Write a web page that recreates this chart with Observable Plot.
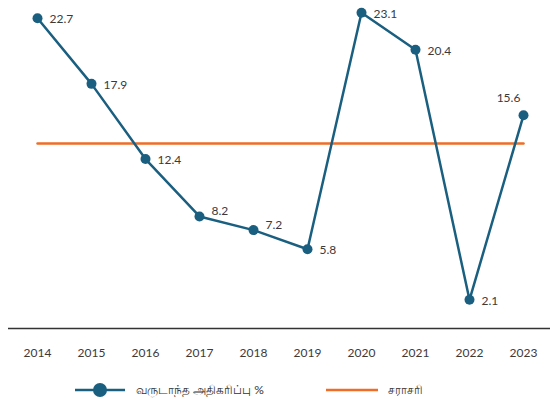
<!DOCTYPE html>
<html>
<head>
<meta charset="utf-8">
<script src="https://cdn.jsdelivr.net/npm/d3@7"></script>
<script src="https://cdn.jsdelivr.net/npm/@observablehq/plot@0.6"></script>
<style>
  html, body { margin: 0; padding: 0; background: #fff; }
  body { width: 550px; height: 412px; overflow: hidden; font-family: Lato, "Noto Sans", sans-serif; }
  #legend { position: relative; height: 37px; font-size: 12px; color: #333; }
  .item { position: absolute; top: 0; display: flex; align-items: center; height: 30px; }
  .item svg { display: block; }
</style>
</head>
<body>
<div id="chart"></div>
<div id="legend"></div>
<script>
const years = ["2014","2015","2016","2017","2018","2019","2020","2021","2022","2023"];
const values = [22.7, 17.9, 12.4, 8.2, 7.2, 5.8, 23.1, 20.4, 2.1, 15.6];
const seriesName = "வருடாந்த அதிகரிப்பு %";
const avgName = "சராசரி";

const data = years.map((y, i) => ({year: y, value: values[i]}));
const avg = d3.mean(values);
const blue = "#1a5f80";
const orange = "#ef6d27";
const raised = new Set(["2017", "2018"]);

const fmt = d => d.value.toFixed(1);
const chart = Plot.plot({
  width: 550,
  height: 375,
  marginLeft: 34,
  marginRight: 24,
  marginTop: 0,
  marginBottom: 47,
  style: {fontFamily: "Lato, 'Noto Sans', sans-serif", fontSize: "12px", color: "#3a3a3a"},
  x: {type: "point", domain: years, padding: 0, label: null, tickSize: 0, tickPadding: 20},
  y: {domain: [0, 24], axis: null},
  marks: [
    Plot.ruleY([0], {stroke: "#333", strokeWidth: 1.5, insetLeft: -26, insetRight: -24}),
    Plot.lineY(data, {x: "year", y: () => avg, stroke: orange, strokeWidth: 2.5}),
    Plot.line(data, {x: "year", y: "value", stroke: blue, strokeWidth: 2.5}),
    Plot.dot(data, {x: "year", y: "value", r: 5, fill: blue, stroke: null}),
    Plot.text(data.filter(d => d.year !== "2023" && !raised.has(d.year)), {x: "year", y: "value", text: fmt, textAnchor: "start", dx: 12, dy: 1, fill: "#3a3a3a", fontSize: 12}),
    Plot.text(data.filter(d => raised.has(d.year)), {x: "year", y: "value", text: fmt, textAnchor: "start", dx: 12, dy: -5, fill: "#3a3a3a", fontSize: 12}),
    Plot.text(data.filter(d => d.year === "2023"), {x: "year", y: "value", text: fmt, textAnchor: "middle", dx: -15, dy: -17, fill: "#3a3a3a", fontSize: 12})
  ]
});
document.getElementById("chart").appendChild(chart);

const legend = document.getElementById("legend");
legend.innerHTML = `
  <div class="item" style="left:75px;">
    <svg width="52" height="16"><line x1="0" y1="8" x2="50" y2="8" stroke="${blue}" stroke-width="2.5"/><circle cx="25" cy="8" r="7" fill="${blue}"/></svg>
    <span style="margin-left:9px;">${seriesName}</span>
  </div>
  <div class="item" style="left:326px;">
    <svg width="54" height="16"><line x1="0" y1="8" x2="52" y2="8" stroke="${orange}" stroke-width="2.5"/></svg>
    <span style="margin-left:8px;">${avgName}</span>
  </div>`;
</script>
</body>
</html>
